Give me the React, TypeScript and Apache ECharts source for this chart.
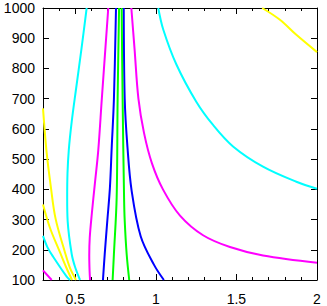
import React, { useEffect, useRef } from "react";
import * as echarts from "echarts";

const xMajorTicks = [0.5, 1, 1.5, 2];
const xMinorTicks = [0.4, 0.6, 0.7, 0.8, 0.9, 1.1, 1.2, 1.3, 1.4, 1.6, 1.7, 1.8, 1.9];

const yellowTopRight = [[1.66, 1000], [1.77, 961], [1.87, 912], [2.0, 854]];
const yellowLeftUpper = [[0.3, 668], [0.322, 525], [0.348, 411], [0.378, 303], [0.436, 192], [0.468, 139], [0.505, 100]];
const yellowLeftLower = [[0.3, 350], [0.343, 273], [0.405, 192], [0.443, 143], [0.48, 100]];

const cyanRight = [[1.015, 1000], [1.046, 929], [1.127, 814], [1.251, 690], [1.355, 613], [1.479, 542], [1.665, 475], [1.872, 425], [2.0, 402]];
const cyanLeftUpper = [[0.571, 1000], [0.538, 862], [0.505, 732], [0.478, 623], [0.46, 530], [0.452, 453], [0.45, 372], [0.453, 295], [0.478, 186], [0.499, 143], [0.53, 100]];
const cyanLeftLower = [[0.3, 246], [0.328, 208], [0.364, 176], [0.447, 111], [0.468, 100]];

const magentaRight = [[0.848, 1000], [0.868, 865], [0.892, 700], [0.927, 586], [0.976, 486], [1.045, 399], [1.15, 313], [1.293, 248], [1.46, 209], [1.665, 181], [2.0, 157]];
const magentaLeft = [[0.705, 1000], [0.665, 700], [0.643, 530], [0.622, 420], [0.603, 320], [0.59, 240], [0.587, 180], [0.589, 130], [0.592, 100]];
const magentaBottomLeft = [[0.3, 132], [0.354, 100]];

const blueLeft = [[0.753, 1000], [0.74, 699], [0.726, 535], [0.715, 404], [0.699, 296], [0.683, 186], [0.672, 100]];
const blueRight = [[0.801, 1000], [0.807, 699], [0.824, 540], [0.85, 395], [0.906, 245], [0.989, 150], [1.05, 100]];

const greenLeft = [[0.772, 1000], [0.763, 699], [0.757, 372], [0.74, 186], [0.732, 100]];
const greenRight = [[0.788, 1000], [0.794, 699], [0.803, 372], [0.807, 296], [0.819, 186], [0.835, 100]];

const curves: [number[][], string][] = [
  [yellowTopRight, "#ffff00"],
  [yellowLeftUpper, "#ffff00"],
  [yellowLeftLower, "#ffff00"],
  [cyanRight, "#00ffff"],
  [cyanLeftUpper, "#00ffff"],
  [cyanLeftLower, "#00ffff"],
  [magentaRight, "#ff00ff"],
  [magentaLeft, "#ff00ff"],
  [magentaBottomLeft, "#ff00ff"],
  [blueLeft, "#0000ff"],
  [blueRight, "#0000ff"],
  [greenLeft, "#00ff00"],
  [greenRight, "#00ff00"],
];

const FONT = "Liberation Sans, Arial, Helvetica, sans-serif";

export default function App() {
  const ref = useRef<HTMLDivElement>(null);
  useEffect(() => {
    if (!ref.current) return;
    const chart = echarts.init(ref.current, undefined, { renderer: "svg" });
    const lineStyle = { color: "#000", width: 1 };
    const baseX = { type: "value", min: 0.3, max: 2, splitLine: { show: false } };
    const baseY = { type: "value", min: 100, max: 1000, interval: 100, splitLine: { show: false } };
    chart.setOption({
      animation: false,
      grid: { left: 43, right: 10, top: 8, bottom: 23, containLabel: false },
      xAxis: [
        {
          ...baseX,
          position: "bottom",
          axisLine: { show: true, lineStyle },
          axisTick: { show: true, inside: true, length: 6, customValues: xMajorTicks, lineStyle },
          axisLabel: {
            show: true,
            customValues: xMajorTicks,
            formatter: (v: number) => String(v),
            color: "#000",
            fontSize: 14,
            fontFamily: FONT,
            margin: 12,
          },
        },
        {
          ...baseX,
          position: "bottom",
          axisLine: { show: false },
          axisTick: { show: true, inside: true, length: 3, customValues: xMinorTicks, lineStyle },
          axisLabel: { show: false },
        },
        {
          ...baseX,
          position: "top",
          axisLine: { show: true, lineStyle },
          axisTick: { show: true, inside: true, length: 6, customValues: xMajorTicks, lineStyle },
          axisLabel: { show: false },
        },
        {
          ...baseX,
          position: "top",
          axisLine: { show: false },
          axisTick: { show: true, inside: true, length: 3, customValues: xMinorTicks, lineStyle },
          axisLabel: { show: false },
        },
      ],
      yAxis: [
        {
          ...baseY,
          position: "left",
          axisLine: { show: true, lineStyle },
          axisTick: { show: true, inside: true, length: 6, lineStyle },
          axisLabel: {
            color: "#000",
            fontSize: 14,
            fontFamily: FONT,
            margin: 8,
            formatter: (v: number) => String(v),
          },
        },
        {
          ...baseY,
          position: "right",
          axisLine: { show: true, lineStyle },
          axisTick: { show: true, inside: true, length: 6, lineStyle },
          axisLabel: { show: false },
        },
      ],
      series: curves.map(([data, color]) => ({
        type: "line",
        xAxisIndex: 0,
        yAxisIndex: 0,
        data,
        smooth: 0.35,
        showSymbol: false,
        symbol: "none",
        clip: true,
        lineStyle: { color, width: 2 },
        itemStyle: { color },
        z: 1,
      })),
    });
    return () => chart.dispose();
  }, []);
  return (
    <div
      ref={ref}
      style={{ position: "fixed", left: 0, top: 0, width: 327, height: 306, background: "#fff" }}
    />
  );
}
